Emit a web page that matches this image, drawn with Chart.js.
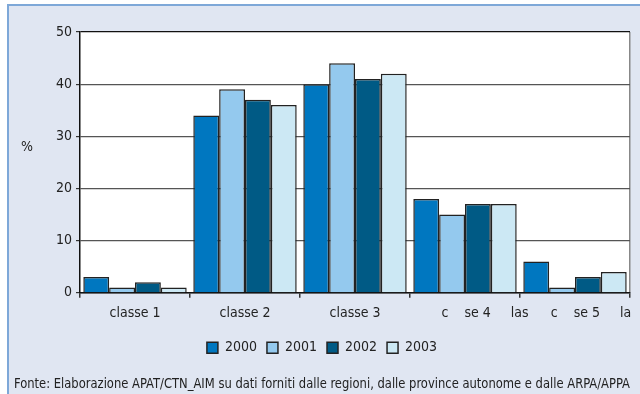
<!DOCTYPE html>
<html>
<head>
<meta charset="utf-8">
<script src="https://cdn.jsdelivr.net/npm/chart.js@4.4.1/dist/chart.umd.min.js"></script>
<style>
  html, body { margin: 0; padding: 0; background: #ffffff; }
  #wrap { position: relative; width: 640px; height: 394px; overflow: hidden; }
  #frame { position: absolute; left: 7px; top: 4px; width: 640px; height: 400px;
           border-top: 2px solid #7ea8d8; border-left: 2px solid #7ea8d8; background: #e0e6f2; }
  #c { position: absolute; left: 0; top: 0; }
</style>
</head>
<body>
<div id="wrap">
  <div id="frame"></div>
  <canvas id="c" width="640" height="394"></canvas>
</div>
<script>
const categories = ["classe 1", "classe 2", "classe 3", "          c    se 4     las", "        c    se 5     la"];
const years = ["2000", "2001", "2002", "2003"];
const values2000 = [3, 34, 40, 18, 6];
const values2001 = [1, 39, 44, 15, 1];
const values2002 = [2, 37, 41, 17, 3];
const values2003 = [1, 36, 42, 17, 4];
const yTicks = [0, 10, 20, 30, 40, 50];
const yLabel = "%";
const sourceNote = "Fonte: Elaborazione APAT/CTN_AIM su dati forniti dalle regioni, dalle province autonome e dalle ARPA/APPA";

const colors = ["#0077c0", "#94c9ee", "#005a85", "#cce8f4"];
const FONT = "'Liberation Sans Narrow', 'Arial Narrow', 'DejaVu Sans Condensed', sans-serif";
Chart.defaults.font.family = FONT;
Chart.defaults.font.size = 14;
Chart.defaults.color = "#222";

const series = [values2000, values2001, values2002, values2003];

const bgPlugin = {
  id: "bg",
  beforeDraw(chart) {
    const { ctx, chartArea: a } = chart;
    ctx.save();
    ctx.fillStyle = "#ffffff";
    ctx.fillRect(a.left, a.top, a.right - a.left, a.bottom - a.top);
    ctx.restore();
  },
  afterDraw(chart) {
    const ctx = chart.ctx;
    ctx.save();
    ctx.font = "14px " + FONT;
    ctx.fillStyle = "#222";
    ctx.textAlign = "center";
    ctx.textBaseline = "middle";
    ctx.fillText(yLabel, 27, 147);
    ctx.restore();
  }
};

new Chart(document.getElementById("c"), {
  type: "bar",
  data: {
    labels: categories,
    datasets: years.map((y, i) => ({
      label: y,
      data: series[i],
      backgroundColor: colors[i],
      borderColor: "#222",
      borderWidth: 1.5,
      categoryPercentage: 0.94,
      barPercentage: 1.0
    }))
  },
  options: {
    responsive: false,
    animation: false,
    layout: { padding: { left: 14, right: 10, top: 32, bottom: 0 } },
    plugins: {
      legend: {
        position: "bottom",
        labels: { boxWidth: 11, boxHeight: 11, padding: 10, color: "#222", font: { size: 14 } }
      },
      title: {
        display: true,
        position: "bottom",
        align: "start",
        text: sourceNote,
        color: "#222",
        font: { size: 14.2, weight: "normal" },
        padding: { top: 10.6, bottom: 1.6 }
      },
      tooltip: { enabled: false }
    },
    scales: {
      x: {
        afterFit: s => { s.height = 38; s.paddingLeft = 0; s.paddingRight = 0; },
        grid: {
          offset: true,
          drawOnChartArea: true,
          color: ctx => (ctx.index === undefined ? "#888" : "rgba(0,0,0,0)"),
          tickColor: "#333",
          tickLength: 5,
          lineWidth: 1.5
        },
        border: { display: true, color: "#111", width: 1.5 },
        ticks: { padding: 7, color: "#222", maxRotation: 0, autoSkip: false, font: { size: 14 } }
      },
      y: {
        min: 0,
        max: 50,
        afterFit: s => { s.width = 66; },
        afterBuildTicks: s => { s.ticks = yTicks.map(v => ({ value: v })); },
        grid: {
          color: ctx => (ctx.tick && ctx.tick.value === 50 ? "#111" : "#555"),
          tickColor: "#333",
          tickLength: 4,
          lineWidth: 1.2
        },
        border: { display: true, color: "#111", width: 1.5 },
        ticks: { padding: 4, color: "#222", font: { size: 14 } }
      }
    }
  },
  plugins: [bgPlugin]
});
</script>
</body>
</html>
